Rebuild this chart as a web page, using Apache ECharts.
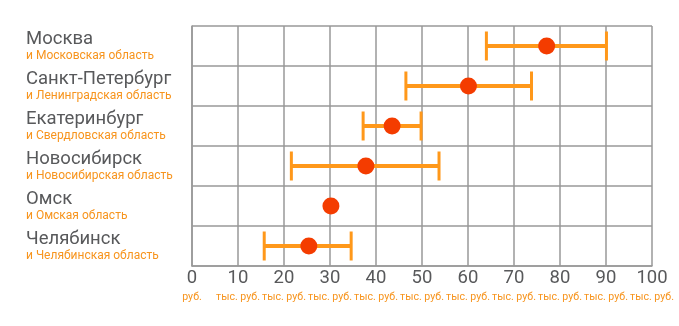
<!DOCTYPE html>
<html><head><meta charset="utf-8">
<script src="https://cdn.jsdelivr.net/npm/echarts@6/dist/echarts.min.js"></script>
<style>html,body{margin:0;padding:0;background:#fff}#c{width:679px;height:326px}</style>
</head><body><div id="c"></div>
<script>
var cities = ['Москва','Санкт-Петербург','Екатеринбург','Новосибирск','Омск','Челябинск'];
var regions = ['и Московская область','и Ленинградская область','и Свердловская область','и Новосибирская область','и Омская область','и Челябинская область'];
var lowVals = [64, 46.5, 37.2, 21.6, null, 15.7];
var midVals = [77.1, 60.1, 43.5, 37.8, 30.2, 25.4];
var highVals = [90.1, 73.8, 49.8, 53.7, null, 34.6];
var xTicks = [0,10,20,30,40,50,60,70,80,90,100];
var xUnitFirst = 'руб.';
var xUnit = 'тыс. руб.';

var gray = '#999999';
var chart = echarts.init(document.getElementById('c'));
var rangeData = [];
for (var i = 0; i < cities.length; i++) {
  if (lowVals[i] != null) rangeData.push([lowVals[i], highVals[i], i]);
}
chart.setOption({
  animation: false,
  textStyle: {fontFamily: 'Roboto'},
  grid: {left: 192, right: 27, top: 26, bottom: 60},
  xAxis: {
    type: 'value', min: 0, max: 100, interval: 10,
    axisLine: {show: true, lineStyle: {color: gray, width: 1.5}},
    axisTick: {show: false},
    splitLine: {show: true, lineStyle: {color: gray, width: 1.5}},
    axisLabel: {
      margin: 1, showMaxLabel: true, showMinLabel: true, hideOverlap: false,
      formatter: function (v) { return '{n|' + v + '}\n{u|' + (v === 0 ? xUnitFirst : xUnit) + '}'; },
      rich: {
        n: {fontSize: 18.5, color: '#58595b', lineHeight: 22, width: 30, align: 'center', fontFamily: 'Roboto'},
        u: {fontSize: 10.6, color: '#f7941d', lineHeight: 16, width: 30, align: 'center', fontFamily: 'Roboto'}
      }
    }
  },
  yAxis: {
    type: 'category', data: cities, inverse: true,
    axisLine: {show: true, lineStyle: {color: gray, width: 1.5}},
    axisTick: {show: false},
    splitLine: {show: true, lineStyle: {color: gray, width: 1.5}},
    axisLabel: {
      align: 'left', margin: 166, interval: 0,
      formatter: function (v, idx) { return '{a|' + v + '}\n{b|' + regions[idx] + '}'; },
      rich: {
        a: {fontSize: 18.5, color: '#58595b', lineHeight: 19, fontFamily: 'Roboto'},
        b: {fontSize: 12, color: '#f7941d', lineHeight: 14, fontFamily: 'Roboto'}
      }
    }
  },
  series: [{
    type: 'custom',
    data: rangeData,
    encode: {x: [0, 1], y: 2},
    renderItem: function (params, api) {
      var p1 = api.coord([api.value(0), api.value(2)]);
      var p2 = api.coord([api.value(1), api.value(2)]);
      var h = 14.5;
      var st = {stroke: '#ff981a', lineWidth: 4};
      return {type: 'group', children: [
        {type: 'line', shape: {x1: p1[0], y1: p1[1], x2: p2[0], y2: p2[1]}, style: st},
        {type: 'line', shape: {x1: p1[0], y1: p1[1] - h, x2: p1[0], y2: p1[1] + h}, style: {stroke: '#ff981a', lineWidth: 3}},
        {type: 'line', shape: {x1: p2[0], y1: p2[1] - h, x2: p2[0], y2: p2[1] + h}, style: {stroke: '#ff981a', lineWidth: 3}}
      ]};
    }
  }, {
    type: 'scatter',
    data: midVals.map(function (v, i) { return [v, i]; }),
    symbol: 'circle', symbolSize: 17,
    itemStyle: {color: '#f43c00', opacity: 1}
  }]
});
</script></body></html>
